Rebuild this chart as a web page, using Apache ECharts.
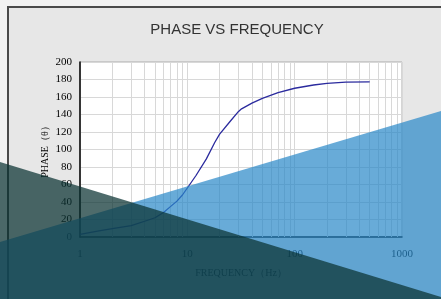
<!DOCTYPE html>
<html>
<head>
<meta charset="utf-8">
<script src="https://cdn.jsdelivr.net/npm/echarts@6/dist/echarts.min.js"></script>
<style>
  html, body { margin: 0; padding: 0; background: #f2f2f2; }
  #chart { width: 441px; height: 299px; }
</style>
</head>
<body>
<div id="chart"></div>
<script>
// frequency (Hz) and phase (deg)
const freq = [1, 1.5, 2, 3, 4, 5, 6, 7, 8, 9, 10, 12, 15, 18, 20, 25, 30, 32, 40, 50, 70, 100, 150, 200, 300, 500]
const phase = [3, 7, 9.5, 13, 18, 22, 28, 35, 41, 48, 56, 70, 89, 108, 117.5, 132, 143.5, 146.5, 153, 158.5, 165, 170, 173.7, 175.5, 177, 177.2]
// log grid minor lines
const minorLines = [2, 3, 4, 5, 6, 7, 8, 9, 20, 30, 40, 50, 60, 70, 80, 90, 200, 300, 400, 500, 600, 700, 800, 900]

const myChart = echarts.init(document.getElementById('chart'))

const labelFont = 'Liberation Serif'

const option = {
  backgroundColor: '#f2f2f2',
  animation: false,
  title: {
    text: 'PHASE VS FREQUENCY',
    left: 232,
    top: 17,
    textAlign: 'center',
    textStyle: {
      fontFamily: 'Liberation Sans',
      fontSize: 15,
      fontWeight: 'normal',
      color: '#333'
    }
  },
  graphic: [
    {
      type: 'rect',
      z: -10,
      shape: { x: 8, y: 7, width: 460, height: 320 },
      style: { fill: '#e7e7e7', stroke: '#4a4a4a', lineWidth: 2 }
    },
    {
      type: 'polygon',
      z: 100,
      silent: true,
      shape: { points: [[0, 242], [441, 111], [441, 299], [0, 299]] },
      style: { fill: 'rgba(40,135,200,0.7)' }
    },
    {
      type: 'polygon',
      z: 101,
      silent: true,
      shape: { points: [[0, 162], [441, 297], [441, 299], [0, 299]] },
      style: { fill: 'rgba(10,50,50,0.72)' }
    }
  ],
  grid: {
    left: 80,
    right: 39,
    top: 62,
    bottom: 62,
    show: true,
    backgroundColor: '#fff',
    borderColor: '#aaa',
    borderWidth: 1
  },
  xAxis: {
    type: 'log',
    logBase: 10,
    min: 1,
    max: 1000,
    name: 'FREQUENCY（Hz）',
    nameLocation: 'middle',
    nameGap: 31,
    nameMoveOverlap: false,
    nameTextStyle: { fontFamily: labelFont, fontSize: 10, color: '#000' },
    axisLine: { lineStyle: { color: '#000', width: 1.5 } },
    axisTick: { show: false },
    axisLabel: {
      fontFamily: labelFont,
      fontSize: 11,
      color: '#000',
      margin: 12,
      formatter: v => String(v)
    },
    splitLine: { show: true, lineStyle: { color: '#d8d8d8', width: 1 } }
  },
  yAxis: {
    type: 'value',
    min: 0,
    max: 200,
    interval: 20,
    name: 'PHASE（θ）',
    nameLocation: 'middle',
    nameGap: 30,
    nameMoveOverlap: false,
    nameRotate: 90,
    nameTextStyle: { fontFamily: labelFont, fontSize: 10, color: '#000' },
    axisLine: { show: true, lineStyle: { color: '#000', width: 1.5 } },
    axisTick: { show: false },
    axisLabel: { fontFamily: labelFont, fontSize: 11, color: '#000', margin: 8 },
    splitLine: { show: true, lineStyle: { color: '#d8d8d8', width: 1 } }
  },
  series: [
    {
      type: 'line',
      data: [],
      silent: true,
      z: 1,
      markLine: {
        silent: true,
        symbol: 'none',
        label: { show: false },
        lineStyle: { color: '#d8d8d8', width: 1, type: 'solid' },
        data: minorLines.map(v => ({ xAxis: v }))
      }
    },
    {
      type: 'line',
      z: 5,
      data: freq.map((f, i) => [f, phase[i]]),
      showSymbol: false,
      smooth: false,
      lineStyle: { color: '#2b2b9e', width: 1.3 }
    }
  ]
}

option && myChart.setOption(option)
</script>
</body>
</html>
